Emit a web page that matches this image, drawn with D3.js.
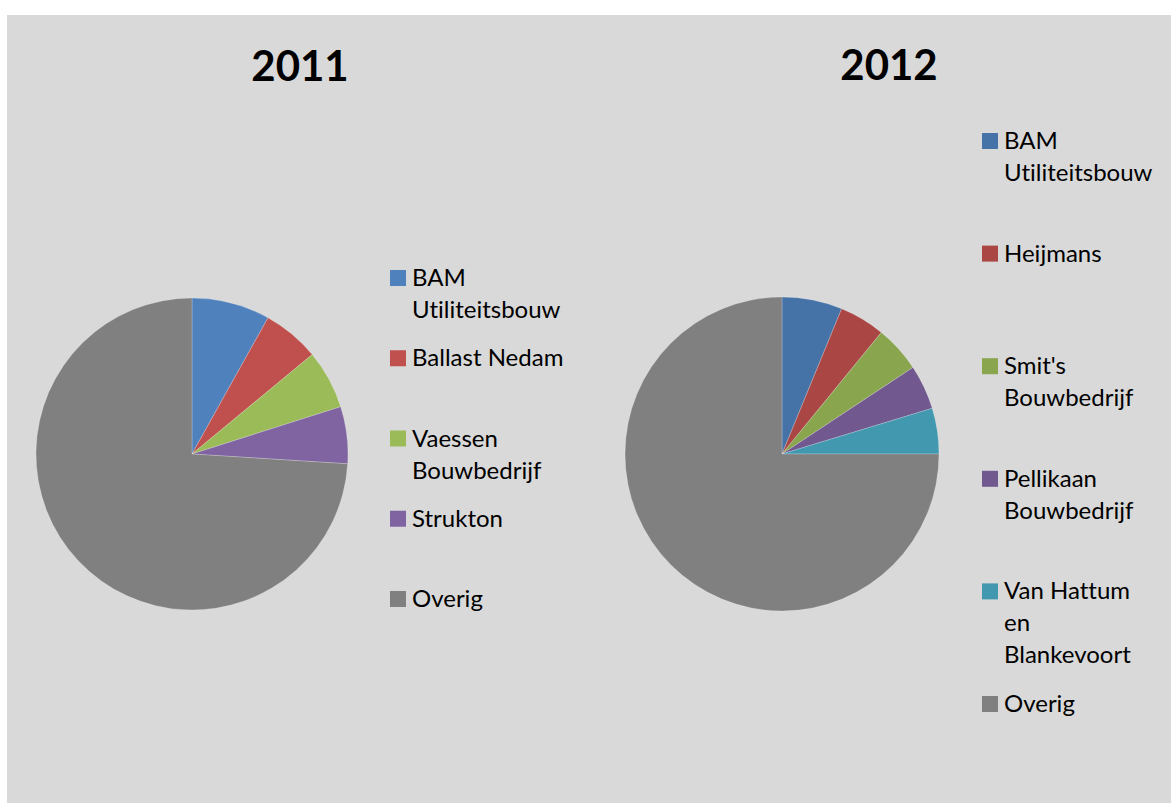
<!DOCTYPE html>
<html><head><meta charset="utf-8">
<script src="https://cdn.jsdelivr.net/npm/d3@7"></script>
<style>html,body{margin:0;padding:0;background:#fff;}svg{display:block;}text{font-variant-ligatures:none;}</style>
</head><body>
<svg id="c" width="1171" height="803"></svg>
<script>
const categories2011 = ["BAM Utiliteitsbouw", "Ballast Nedam", "Vaessen Bouwbedrijf", "Strukton", "Overig"];
const values2011 = [8.1, 5.9, 6.1, 5.9, 74.0];
const colors2011 = ["#4f81bd", "#c0504d", "#9bbb59", "#8064a2", "#808080"];
const legendLines2011 = [["BAM", "Utiliteitsbouw"], ["Ballast Nedam"], ["Vaessen", "Bouwbedrijf"], ["Strukton"], ["Overig"]];

const categories2012 = ["BAM Utiliteitsbouw", "Heijmans", "Smit's Bouwbedrijf", "Pellikaan Bouwbedrijf", "Van Hattum en Blankevoort", "Overig"];
const values2012 = [6.2, 4.7, 4.8, 4.6, 4.7, 75.0];
const colors2012 = ["#4572a7", "#aa4643", "#89a54e", "#71588f", "#4198af", "#808080"];
const legendLines2012 = [["BAM", "Utiliteitsbouw"], ["Heijmans"], ["Smit's", "Bouwbedrijf"], ["Pellikaan", "Bouwbedrijf"], ["Van Hattum", "en", "Blankevoort"], ["Overig"]];

const titles = ["2011", "2012"];

const svg = d3.select("#c");
svg.append("rect").attr("x", 7).attr("y", 15).attr("width", 1164).attr("height", 788).attr("fill", "#d9d9d9");

const font = "Lato, 'Open Sans', sans-serif";

function drawPie(cfg) {
  const pie = d3.pie().sort(null).value(d => d.v);
  const arc = d3.arc().innerRadius(0).outerRadius(cfg.r);
  const data = cfg.cats.map((c, i) => ({c, v: cfg.vals[i], col: cfg.cols[i]}));
  const g = svg.append("g").attr("transform", `translate(${cfg.cx},${cfg.cy})`);
  g.selectAll("path").data(pie(data)).join("path")
    .attr("d", arc).attr("fill", d => d.data.col)
    .attr("stroke", "rgba(255,255,255,0.35)").attr("stroke-width", 0.6);

  svg.append("text").attr("x", cfg.tx).attr("y", cfg.ty).attr("text-anchor", "middle")
    .attr("font-family", font).attr("font-weight", "bold").attr("font-size", 42)
    .attr("fill", "#000").text(cfg.title);

  const lg = svg.append("g");
  const ys = d3.scaleLinear().domain([0, cfg.cats.length - 1]).range([cfg.ly0, cfg.ly1]);
  cfg.lines.forEach((lines, i) => {
    const y = ys(i);
    lg.append("rect").attr("x", cfg.lx).attr("y", y).attr("width", 16).attr("height", 16).attr("fill", cfg.cols[i]);
    const t = lg.append("text").attr("font-family", font).attr("font-size", 24).attr("fill", "#000");
    lines.forEach((ln, j) => {
      t.append("tspan").attr("x", cfg.lx + 22).attr("y", y + 16 + j * 32).text(ln);
    });
  });
}

drawPie({cx: 192, cy: 454, r: 156, cats: categories2011, vals: values2011, cols: colors2011, lines: legendLines2011,
  title: titles[0], tx: 300, ty: 81, lx: 390, ly0: 270, ly1: 591});
drawPie({cx: 782, cy: 454, r: 157, cats: categories2012, vals: values2012, cols: colors2012, lines: legendLines2012,
  title: titles[1], tx: 889, ty: 80, lx: 982, ly0: 133, ly1: 696});
</script>
</body></html>
